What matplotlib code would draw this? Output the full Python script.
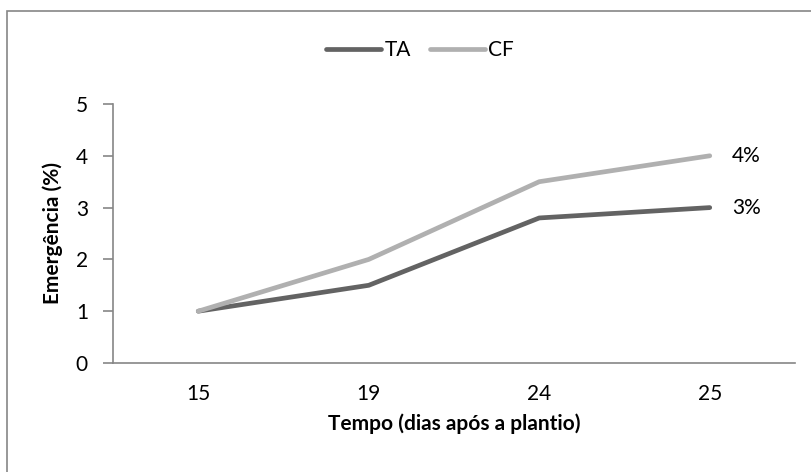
import matplotlib.pyplot as plt
from matplotlib.patches import Rectangle
import numpy as np

# dados
dias = ['15', '19', '24', '25']
ta = [1, 1.5, 2.8, 3]
cf = [1, 2, 3.5, 4]
rotulos_fim = {'TA': '3%', 'CF': '4%'}

plt.rcParams['font.family'] = ['Lato', 'DejaVu Sans']

cor_eixo = '#868686'
cor_ta = '#636363'
cor_cf = '#b0b0b0'
fs = 15

W, H = 811, 472
fig = plt.figure(figsize=(W / 100, H / 100), dpi=100)

# borda da área do gráfico (direita e inferior ficam fora da imagem)
fig.patches.append(Rectangle((7 / W, -0.05), 1.2, 1 - 11 / H + 0.05,
                             transform=fig.transFigure, fill=False,
                             edgecolor=cor_eixo, linewidth=1.2))

ax = fig.add_axes([113 / W, 1 - 363 / H, (795 - 113) / W, (363 - 104) / H])

x = np.arange(len(dias)) + 0.5
l1, = ax.plot(x, ta, color=cor_ta, linewidth=3.4, solid_capstyle='round',
              solid_joinstyle='round', label='TA')
l2, = ax.plot(x, cf, color=cor_cf, linewidth=3.4, solid_capstyle='round',
              solid_joinstyle='round', label='CF')

ax.annotate(rotulos_fim['CF'], (x[-1], cf[-1]), xytext=(22, 0),
            textcoords='offset pixels', va='center', ha='left', fontsize=fs)
ax.annotate(rotulos_fim['TA'], (x[-1], ta[-1]), xytext=(22, 0),
            textcoords='offset pixels', va='center', ha='left', fontsize=fs)

ax.set_xlim(0, len(dias))
ax.set_ylim(0, 5)
ax.set_xticks(x)
ax.set_xticklabels(dias)
ax.set_yticks(range(6))

for s in ['top', 'right']:
    ax.spines[s].set_visible(False)
for s in ['left', 'bottom']:
    ax.spines[s].set_color(cor_eixo)
    ax.spines[s].set_linewidth(1.2)

ax.tick_params(axis='x', length=0, pad=15, labelsize=fs)
ax.tick_params(axis='y', length=7, color=cor_eixo, width=1.2, pad=11, labelsize=fs)

ax.set_xlabel('Tempo (dias após a plantio)', fontweight='bold', fontsize=fs, labelpad=7)
ax.set_ylabel('Emergência (%)', fontweight='bold', fontsize=fs, labelpad=9)

fig.legend(handles=[l1, l2], loc='center', bbox_to_anchor=(420 / W, 1 - 50 / H),
           ncol=2, frameon=False, fontsize=fs, handlelength=2.64,
           handletextpad=0.15, columnspacing=0.9)

plt.savefig('out.png', dpi=100)
